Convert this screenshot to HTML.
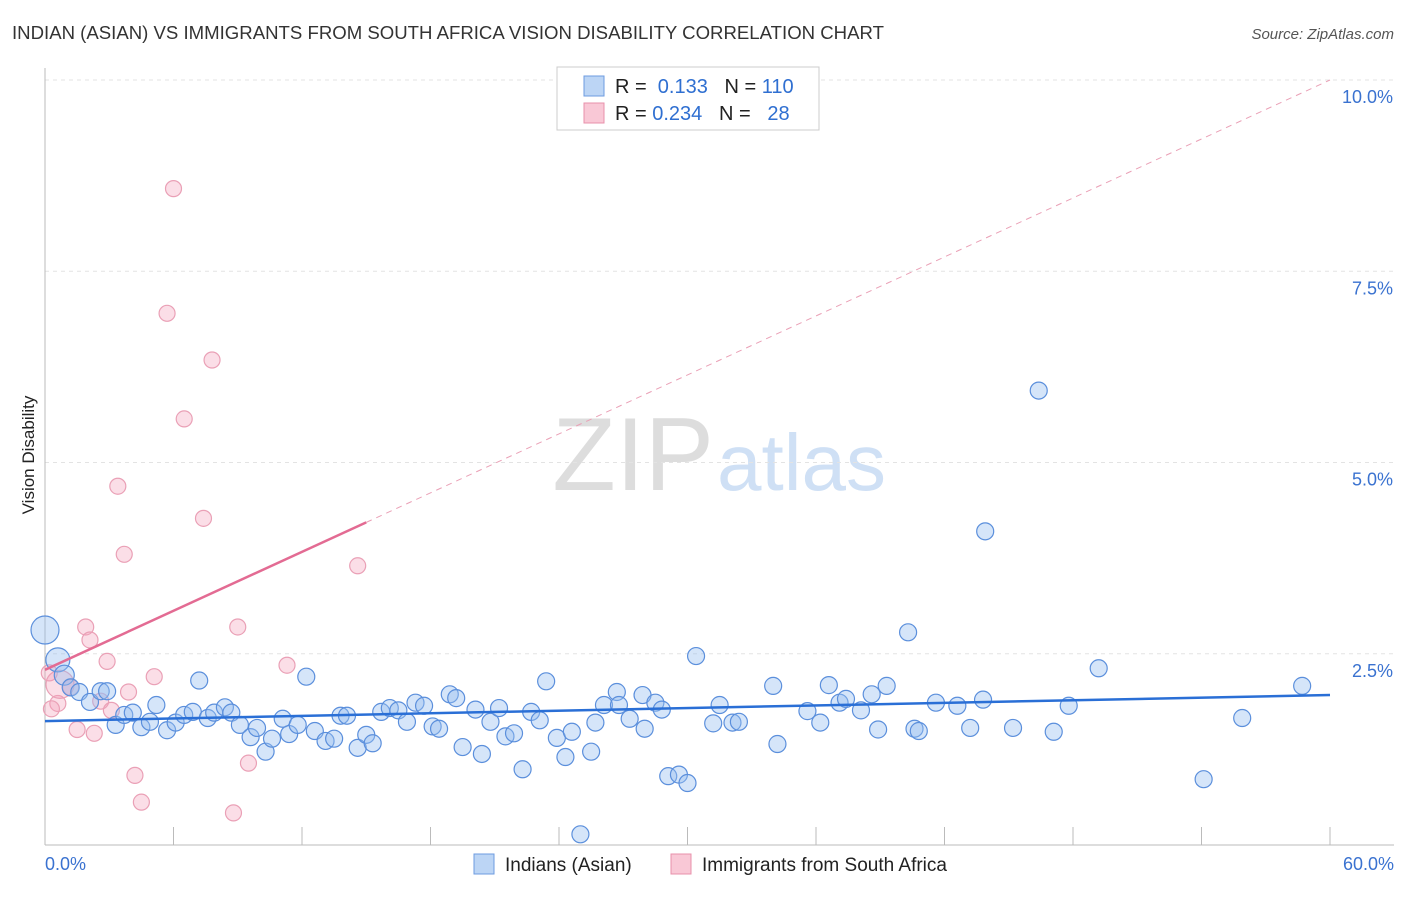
<!DOCTYPE html>
<html><head><meta charset="utf-8"><style>
body{margin:0;background:#fff;font-family:"Liberation Sans",sans-serif;}
svg text{font-family:"Liberation Sans",sans-serif;}
</style></head><body>
<svg id="chart" width="1406" height="892">
<text x="12" y="39" font-size="18.6" fill="#333">INDIAN (ASIAN) VS IMMIGRANTS FROM SOUTH AFRICA VISION DISABILITY CORRELATION CHART</text>
<text x="1394" y="39" font-size="15" fill="#555" text-anchor="end" font-style="italic">Source: ZipAtlas.com</text>
<text x="34" y="455" font-size="17" fill="#222" text-anchor="middle" transform="rotate(-90 34 455)">Vision Disability</text>
<text x="714" y="490" font-size="104" fill="#ddd" text-anchor="end" font-family="Liberation Serif">ZIP</text>
<text x="717" y="490" font-size="80" fill="#cfe0f5">atlas</text>
<g id="grid"></g><g id="axes"></g><g id="pts"></g><g id="trends"></g>
<g>
<rect x="557" y="67" width="262" height="63" fill="#fff" stroke="#ccc"/>
<rect x="584" y="76" width="20" height="20" fill="#bcd5f5" stroke="#6d9be0"/>
<text x="615" y="93" font-size="20" fill="#222">R = <tspan fill="#2f6fd1">&#160;0.133</tspan>&#160;&#160;&#160;N = <tspan fill="#2f6fd1">110</tspan></text>
<rect x="584" y="103" width="20" height="20" fill="#f9c8d6" stroke="#e890ab"/>
<text x="615" y="120" font-size="20" fill="#222">R = <tspan fill="#2f6fd1">0.234</tspan>&#160;&#160;&#160;N = <tspan fill="#2f6fd1">&#160;&#160;28</tspan></text>
</g>
<g>
<rect x="474" y="854" width="20" height="20" fill="#bcd5f5" stroke="#6d9be0"/>
<text x="505" y="871" font-size="19" fill="#222">Indians (Asian)</text>
<rect x="671" y="854" width="20" height="20" fill="#f9c8d6" stroke="#e890ab"/>
<text x="702" y="871" font-size="19" fill="#222">Immigrants from South Africa</text>
</g>
</svg>
<script>
const yTicks=[2.5,5,7.5,10];
const yTickLabels=["2.5%","5.0%","7.5%","10.0%"];
const xLabels=["0.0%","60.0%"];
const blueX=[0,0.6,0.9,1.2,1.6,2.1,2.6,2.9,3.3,3.7,4.1,4.5,4.9,5.2,5.7,6.1,6.5,6.9,7.2,7.6,7.9,8.4,8.7,9.1,9.6,9.9,10.3,10.6,11.1,11.4,11.8,12.2,12.6,13.1,13.5,13.8,14.1,14.6,15.0,15.3,15.7,16.1,16.5,16.9,17.3,17.7,18.1,18.4,18.9,19.2,19.5,20.1,20.4,20.8,21.2,21.5,21.9,22.3,22.7,23.1,23.4,23.9,24.3,24.6,25.0,25.5,25.7,26.1,26.7,26.8,27.3,27.9,28.0,28.5,28.8,29.1,29.6,30.0,30.4,31.2,31.5,32.1,32.4,34.0,34.2,35.6,36.2,36.6,37.1,37.4,38.1,38.6,38.9,39.3,40.3,40.6,40.8,41.6,42.6,43.2,43.8,43.9,45.2,46.4,47.1,47.8,49.2,54.1,55.9,58.7];
const blueY=[2.81,2.42,2.22,2.06,2.0,1.87,2.01,2.01,1.57,1.7,1.73,1.54,1.61,1.83,1.5,1.6,1.7,1.74,2.15,1.66,1.73,1.8,1.73,1.57,1.41,1.53,1.22,1.39,1.65,1.45,1.57,2.2,1.49,1.36,1.39,1.69,1.69,1.27,1.44,1.33,1.74,1.79,1.76,1.61,1.86,1.82,1.55,1.52,1.97,1.92,1.28,1.77,1.19,1.61,1.79,1.42,1.46,0.99,1.74,1.63,2.14,1.4,1.15,1.48,0.14,1.22,1.6,1.83,2.0,1.83,1.65,1.96,1.52,1.86,1.77,0.90,0.92,0.81,2.47,1.59,1.83,1.6,1.61,2.08,1.32,1.75,1.6,2.09,1.86,1.91,1.76,1.97,1.51,2.08,2.78,1.52,1.49,1.86,1.82,1.53,1.9,4.1,1.53,5.94,1.48,1.82,2.31,0.86,1.66,2.08];
const pinkX=[6.0,5.7,7.8,6.5,3.4,7.4,3.7,14.6,9.0,1.9,2.1,0.2,2.9,5.1,11.3,1.2,3.9,2.6,0.6,3.1,1.5,2.3,0.3,4.2,9.5,4.5,8.8,0.7];
const pinkY=[8.58,6.95,6.34,5.57,4.69,4.27,3.80,3.65,2.85,2.85,2.68,2.25,2.40,2.20,2.35,2.06,2.0,1.88,1.85,1.76,1.51,1.46,1.78,0.91,1.07,0.56,0.42,2.1];
const blueTrend=[1.62,1.96];
const pinkTrend=[2.29,10.0];
const X0=45,X1=1330,Y0=845,PY=76.5;
const xs=v=>X0+(v/60)*(X1-X0), ys=v=>Y0-v*PY;
const NS="http://www.w3.org/2000/svg";
function mk(t,a,p){const e=document.createElementNS(NS,t);for(const k in a)e.setAttribute(k,a[k]);p.appendChild(e);return e;}
const grid=document.getElementById('grid'),axes=document.getElementById('axes');
yTicks.forEach((t,i)=>{
 const l=mk('line',{x1:X0,x2:1394,y1:ys(t),y2:ys(t),stroke:'#e3e3e3','stroke-dasharray':'4,4'},grid);
 
 
 const tx=mk('text',{x:1393,y:ys(t)+23,'font-size':18,fill:'#3a72d0','text-anchor':'end'},axes);
 tx.textContent=yTickLabels[i];
 
 
});
const ax=mk('line',{x1:X0,x2:X0,y1:68,y2:Y0,stroke:'#bbb'},axes);


const bx=mk('line',{x1:X0,x2:1394,y1:Y0,y2:Y0,stroke:'#bbb'},axes);


for(let i=1;i<=10;i++){const x=X0+i*(X1-X0)/10;const t=mk('line',{x1:x,x2:x,y1:Y0-18,y2:Y0,stroke:'#bbb'},axes);
 
 }
[[xs(0),'start',0],[1394,'end',1]].forEach(([x,a,i])=>{const t=mk('text',{x:x,y:870,'font-size':18,fill:'#3a72d0','text-anchor':a},axes);t.textContent=xLabels[i];
 
 });
const pts=document.getElementById('pts');
pinkX.forEach((v,i)=>{const c=mk('circle',{cx:xs(v),cy:ys(pinkY[i]),r:i==27?14:8,fill:'rgba(244,160,185,0.35)',stroke:'#eaa0b6','stroke-width':1.2},pts);
 
 });
blueX.forEach((v,i)=>{const c=mk('circle',{cx:xs(v),cy:ys(blueY[i]),r:i==0?14:(i==1?12:(i==2?10:8.5)),fill:'rgba(150,190,240,0.4)',stroke:'#5b8fdc','stroke-width':1.2},pts);
 
 });
const tr=document.getElementById('trends');
const b=mk('line',{x1:xs(0),x2:xs(60),y1:ys(blueTrend[0]),y2:ys(blueTrend[1]),stroke:'#2a6fd6','stroke-width':2.5},tr);


const pv=x=>pinkTrend[0]+(pinkTrend[1]-pinkTrend[0])*x/60;
const pd=mk('line',{x1:xs(15),x2:xs(60),y1:ys(pv(15)),y2:ys(pv(60)),stroke:'#eaa0b6','stroke-width':1,'stroke-dasharray':'6,5'},tr);


const ps=mk('line',{x1:xs(0),x2:xs(15),y1:ys(pv(0)),y2:ys(pv(15)),stroke:'#e36b93','stroke-width':2.5},tr);


</script>
</body></html>
